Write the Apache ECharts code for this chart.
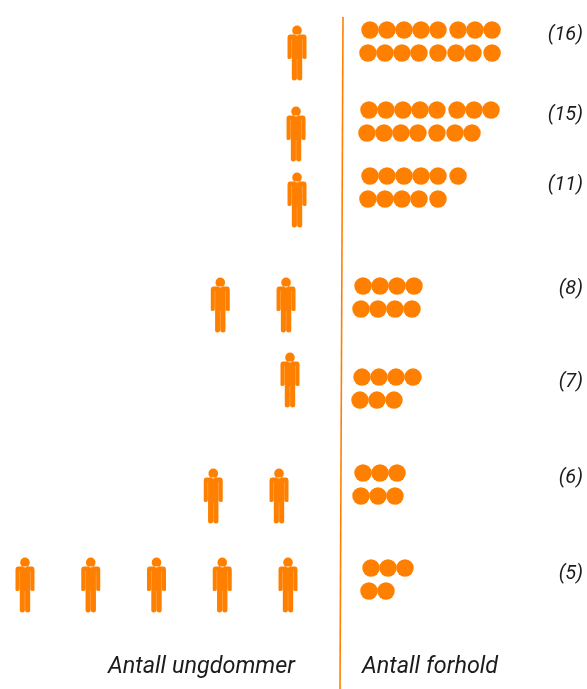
<!DOCTYPE html>
<html><head><meta charset="utf-8">
<style>html,body{margin:0;padding:0;background:#fff}#c{width:587px;height:689px}</style>
<script src="https://cdn.jsdelivr.net/npm/echarts@6/dist/echarts.min.js"></script>
</head><body><div id="c"></div>
<script>
// DATA
const relationCounts = [16, 15, 11, 8, 7, 6, 5];
const youthCounts = [1, 1, 1, 2, 1, 2, 5];
const countLabels = ['(16)', '(15)', '(11)', '(8)', '(7)', '(6)', '(5)'];
const leftTitle = 'Antall ungdommer';
const rightTitle = 'Antall forhold';

// LAYOUT (in axis units, not data)
const dotTopRow = [0, 3.48, 6.35, 11.13, 15.09, 19.26, 23.39];
const personRow = [1, 4.52, 7.39, 11.96, 15.22, 20.26, 24.13];
const labelRow = [0.23, 3.71, 6.75, 11.27, 15.32, 19.49, 23.67];
const dotShift = [0, -0.06, 0, -0.41, -0.47, -0.41, 0.06];
const personShift = [-0.137, -0.122, -0.137, 0.03, -0.03, 0.137, 0];
const topCols = [0, 1, 2, 3, 4, 5.18, 6.18, 7.18];
const bottomCols = [-0.12, 0.88, 1.88, 2.88, 4, 5.06, 6.06, 7.18];
const labelCol = 12.53;

const ORANGE = '#ff8000';
const INK = '#1c1c1c';
const FONT = 'Roboto';
const personPath = 'path://M47 50a48 50 0 1 0 96 0a48 50 0 1 0-96 0Z' +
  'M24 90L166 90Q190 92 190 118L190 320Q190 335 178 335Q149 335 149 320L149 135L147 135' +
  'L147 330L147 530Q147 550 123 550Q98 550 96 530L96 335L94 335L94 530Q92 550 67 550Q43 550 43 530' +
  'L43 330L43 135L41 135L41 320Q41 335 12 335Q0 335 0 320L0 118Q0 92 24 90Z';

const dots = [], people = [], labels = [];
relationCounts.forEach((n, r) => {
  const perTop = Math.ceil(n / 2);
  for (let i = 0; i < n; i++) {
    const top = i < perTop;
    const col = top ? topCols[i] : bottomCols[i - perTop];
    dots.push([col + dotShift[r], dotTopRow[r] + (top ? 0 : 1)]);
  }
  labels.push({ value: [labelCol, labelRow[r]], name: countLabels[r] });
});
youthCounts.forEach((n, r) => {
  for (let i = 0; i < n; i++) people.push([i + personShift[r], personRow[r]]);
});

const yUnit = { type: 'value', inverse: true, min: -1.304, max: 28.652, show: false };
const chart = echarts.init(document.getElementById('c'), null, { renderer: 'canvas' });
chart.setOption({
  animation: false,
  backgroundColor: '#fff',
  grid: [
    { left: 0, right: 0, top: 0, bottom: 0 },
    { left: 0, right: 0, top: 0, bottom: 0 }
  ],
  xAxis: [
    { type: 'value', gridIndex: 0, inverse: true, min: -4.547, max: 4.38, show: false },
    { type: 'value', gridIndex: 1, min: -21.765, max: 12.765, show: false }
  ],
  yAxis: [Object.assign({ gridIndex: 0 }, yUnit), Object.assign({ gridIndex: 1 }, yUnit)],
  series: [
    { type: 'scatter', xAxisIndex: 0, yAxisIndex: 0, data: people, symbol: personPath,
      symbolSize: [19, 55], itemStyle: { color: ORANGE, opacity: 1 }, silent: true },
    { type: 'scatter', xAxisIndex: 1, yAxisIndex: 1, data: dots, symbol: 'circle',
      symbolSize: 17.5, itemStyle: { color: ORANGE, opacity: 1 }, silent: true },
    { type: 'scatter', xAxisIndex: 1, yAxisIndex: 1, data: labels, symbolSize: 0, silent: true,
      itemStyle: { opacity: 1 },
      label: { show: true, position: 'inside', align: 'right', verticalAlign: 'middle',
        formatter: p => p.name, color: INK, opacity: 1, fontFamily: FONT, fontStyle: 'italic', fontSize: 20 } }
  ],
  graphic: [
    { type: 'line', silent: true, shape: { x1: 343, y1: 17, x2: 340, y2: 689 },
      style: { stroke: ORANGE, lineWidth: 1.6 } },
    { type: 'text', silent: true, left: 108, top: 656,
      style: { text: leftTitle, fill: INK, font: 'italic 23.4px ' + FONT } },
    { type: 'text', silent: true, left: 362, top: 656,
      style: { text: rightTitle, fill: INK, font: 'italic 23.4px ' + FONT } }
  ]
});
</script></body></html>
